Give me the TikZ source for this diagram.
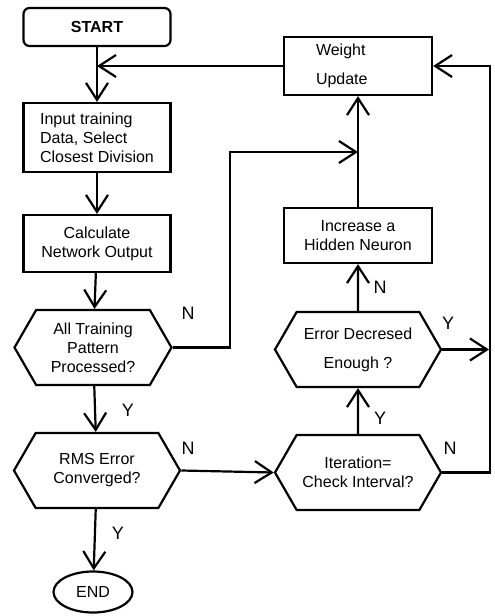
\documentclass[tikz,border=0pt]{standalone}
\usepackage{fontspec}
\setmainfont{Liberation Sans}
\usetikzlibrary{shapes.symbols,shapes.geometric,arrows.meta}

\begin{document}
\begin{tikzpicture}[
  x=0.5pt, y=-0.5pt, line width=1.1pt,
  >={Straight Barb[length=8.5pt,width=11pt,line width=1.1pt]},
  box/.style={rectangle,draw,minimum width=73.5pt,inner sep=2pt,align=center,font=\fontsize{8}{9.5}\selectfont},
  hexa/.style={signal,signal to=west and east,signal pointer angle=120,draw,minimum height=37.5pt,inner sep=1pt,align=center,font=\fontsize{8}{9.5}\selectfont},
  term/.style={ellipse,draw,minimum width=39.5pt,minimum height=20.5pt,inner sep=1pt,font=\fontsize{8}{9.5}\selectfont},
  lbl/.style={font=\fontsize{9}{10}\selectfont}
]
  \useasboundingbox (0,0) rectangle (494,616);
  \node[box,rounded corners=3pt,minimum height=19pt,font=\fontsize{8}{9.5}\selectfont\bfseries] (start) at (97,27) {START};
  \node[box,minimum height=34.5pt,align=left] (input) at (97,137.5) {Input training\\Data, Select\\Closest Division};
  \node[box,minimum height=28.5pt] (calc) at (97,243.5) {Calculate\\Network Output};
  \node[hexa,minimum width=78.5pt] (alltrain) at (93,347.5) {All Training\\Pattern\\Processed?};
  \node[hexa,minimum width=83pt] (rms) at (97,470.5) {RMS Error\\Converged?};
  \node[term] (end) at (93,592) {END};
  \node[box,minimum height=29pt,align=left,text width=42pt,inner xsep=16pt] (weight) at (358,66) {Weight\\[5pt]Update};
  \node[box,minimum width=74pt,minimum height=27.5pt] (incr) at (358,235.5) {Increase a\\Hidden Neuron};
  \node[hexa,minimum width=83pt] (errdec) at (358,349.5) {Error Decresed\\[5pt]Enough ?};
  \node[hexa,minimum width=83pt] (iter) at (358,472.5) {Iteration=\\Check Interval?};
  \coordinate (jB) at (358,152);
  \coordinate (jC) at (489,349.5);
  \draw[->] (start) -- (input);
  \draw[->] (weight.west) -- (weight.west -| start.south);
  \draw[->] (input) -- (calc);
  \draw[->] (calc) -- (alltrain);
  \draw[->] (alltrain) -- (rms);
  \draw[->] (rms) -- (end);
  \draw[->] (alltrain.east) -- ++(57,0) |- (jB);
  \draw[->] (incr) -- (weight);
  \draw[->] (errdec) -- (incr);
  \draw[->] (iter) -- (errdec);
  \draw[->] (rms.east) -- (iter.west);
  \draw[->] (iter.east) -- ++(48,0) |- (weight.east);
  \draw[->] (errdec.east) -- (jC);
  \node[lbl] (nA) at (188,313) {N};
  \node[lbl] (yA) at (128,410) {Y};
  \node[lbl] (nB) at (188,448) {N};
  \node[lbl] (yB) at (118,533) {Y};
  \node[lbl] (yC) at (380,418) {Y};
  \node[lbl] (nC) at (450,448) {N};
  \node[lbl] (nD) at (380,287) {N};
  \node[lbl] (yD) at (448,323) {Y};
\end{tikzpicture}
\end{document}
